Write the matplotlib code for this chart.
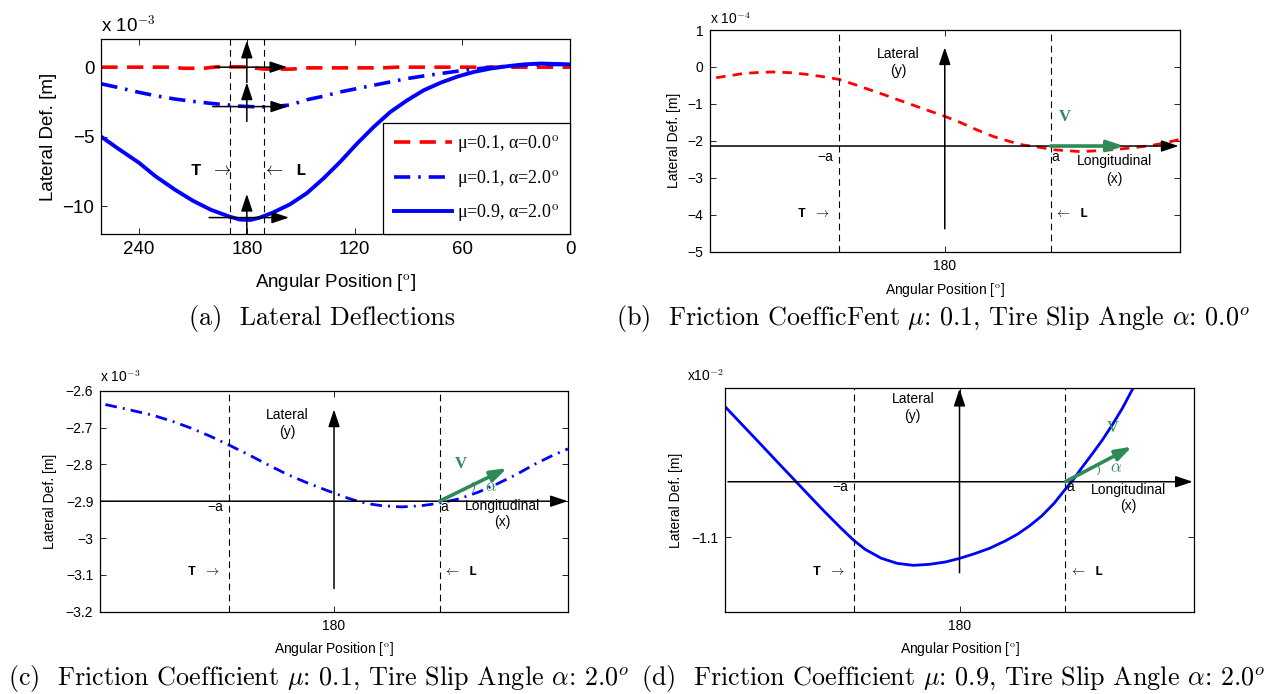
import numpy as np
import matplotlib.pyplot as plt
from matplotlib.ticker import FuncFormatter

plt.rcParams['font.family'] = ['Liberation Sans', 'DejaVu Sans']
plt.rcParams['mathtext.fontset'] = 'cm'

# ******** data (a): whole circumference, 1e-3 m ********
ang_red_a = [261, 220, 216, 204, 197, 182, 170, 155, 146, 105, 96, 40, 0]
red_a = [0.0, 0.0, -0.08, -0.08, 0.02, 0.02, -0.14, -0.14, -0.05, -0.05, 0.0, 0.0, 0.0]
ang_mid_a = [261, 252, 240, 230.9, 220, 209.9, 200, 189.9, 183.9, 172.7, 165.3, 156, 146.6,
             137.4, 128, 118.7, 109.4, 100.1, 90.7, 81.5, 72.1, 62.8, 53.5, 44.2, 34.8, 25.5,
             16.2, 0]
mid_a = [-1.2, -1.45, -1.81, -2.05, -2.29, -2.46, -2.6, -2.72, -2.8, -2.86, -2.82, -2.72,
         -2.34, -2.09, -1.78, -1.54, -1.30, -1.06, -0.82, -0.63, -0.46, -0.29, -0.14, -0.02,
         0.07, 0.14, 0.2, 0.18]
ang_sol_a = [261, 252, 240, 230.9, 220, 209.9, 200, 189.9, 183.9, 178, 172.7, 165.3, 156,
             146.6, 137.4, 128, 118.7, 109.4, 100.1, 90.7, 81.5, 72.1, 62.8, 53.5, 44.2, 34.8,
             25.5, 16.2, 0]
sol_a = [-5.0, -5.82, -6.87, -7.83, -8.8, -9.6, -10.24, -10.72, -10.94, -10.97, -10.8,
         -10.43, -9.85, -9.05, -8.0, -6.8, -5.5, -4.3, -3.22, -2.38, -1.66, -1.12, -0.68,
         -0.34, -0.10, 0.07, 0.2, 0.26, 0.2]
xt_a = [240, 180, 120, 60, 0]
yt_a = [0, -5, -10]

# ******** data (b): mu 0.1, alpha 0, 1e-4 m ********
ang_b = [200.53, 199.11, 197.99, 196.51, 195.39, 193.90, 192.41, 190.92, 189.50, 188.12,
         186.82, 185.33, 183.84, 181.97, 180.00, 178.62, 177.13, 175.64, 174.15, 173.03,
         171.91, 170.05, 167.82, 165.95, 164.46, 162.97, 161.48, 159.99, 158.87]
def_b = [-0.291, -0.227, -0.173, -0.145, -0.136, -0.155, -0.200, -0.264, -0.336, -0.473,
         -0.609, -0.764, -0.927, -1.127, -1.336, -1.500, -1.700, -1.882, -2.018, -2.109,
         -2.155, -2.245, -2.291, -2.264, -2.227, -2.182, -2.127, -2.045, -1.955]
yt_b = [1, 0, -1, -2, -3, -4, -5]

# ******** data (c): mu 0.1, alpha 2, 1e-3 m ********
ang_c = [200.59, 198.69, 196.28, 194.56, 192.84, 191.12, 189.50, 187.68, 185.96, 184.23,
         182.51, 181.14, 180.0, 178.73, 177.69, 176.66, 175.63, 173.91, 172.19, 170.53,
         168.74, 167.02, 165.30, 163.58, 161.86, 160.14, 158.93]
def_c = [-2.6376, -2.650, -2.667, -2.683, -2.702, -2.724, -2.747, -2.774, -2.801,
         -2.827, -2.849, -2.865, -2.878, -2.892, -2.9015, -2.908, -2.9125, -2.9155,
         -2.9125, -2.9054, -2.8937, -2.8756, -2.8529, -2.8276, -2.7986, -2.7733, -2.7579]
yt_c = [-2.6, -2.7, -2.8, -2.9, -3.0, -3.1, -3.2]

# ******** data (d): mu 0.9, alpha 2, 1e-2 m ********
ang_d = [201.06, 199.69, 197.88, 196.44, 195.17, 193.55, 192.10, 190.66, 189.50, 188.49,
         187.04, 185.60, 184.15, 182.71, 181.26, 180.00, 178.74, 177.29, 175.85, 174.76,
         173.68, 172.59, 171.51, 170.50, 169.70, 168.98, 168.08, 167.17, 166.27, 165.37,
         164.47, 163.74]
def_d = [-1.0342, -1.0423, -1.0530, -1.0616, -1.0691, -1.0787, -1.0872, -1.0953, -1.1015,
         -1.1060, -1.1105, -1.1131, -1.1141, -1.1136, -1.1124, -1.1106, -1.1084, -1.1055,
         -1.1017, -1.0983, -1.0941, -1.0891, -1.0829, -1.0758, -1.0703, -1.0647, -1.0580,
         -1.0510, -1.0433, -1.0350, -1.0255, -1.0182]
yt_d = [-1.1]

W, H = 1270, 694
fig = plt.figure(figsize=(W / 100, H / 100), dpi=100)
green = '#2E8B57'


def rect(l, t, r, b):
    return [l / W, 1 - b / H, (r - l) / W, (b - t) / H]


def fmt(v, p):
    return ('%g' % round(v, 6)).replace('-', '\u2212')


def style(ax, fs):
    ax.tick_params(direction='in', top=True, right=True, length=4, width=0.6,
                   labelsize=fs, pad=5)
    for s in ax.spines.values():
        s.set_linewidth(0.9)
    ax.yaxis.set_major_formatter(FuncFormatter(fmt))


def arrow(ax, x0, y0, x1, y1, c='k', lw=1.1, ms=14):
    ax.annotate('', xy=(x1, y1), xytext=(x0, y0),
                arrowprops=dict(arrowstyle='-|>,head_length=0.75,head_width=0.25',
                                color=c, lw=lw, mutation_scale=ms,
                                shrinkA=0, shrinkB=0))


# ======== (a) ========
ax = fig.add_axes(rect(101.4, 39.3, 570, 234.3))
l1, = ax.plot(ang_red_a, red_a, color='r', lw=2.6, ls=(0, (4.5, 2.6)))
l2, = ax.plot(ang_mid_a, mid_a, color='b', lw=2.6, ls=(0, (4.5, 2.2, 0.7, 2.2)))
l3, = ax.plot(ang_sol_a, sol_a, color='b', lw=2.8)
ax.set_xlim(261, 0)
ax.set_ylim(-12, 2)
ax.set_xticks(xt_a)
ax.set_yticks(yt_a)
style(ax, 13.5)
for xv in [189.5, 170.5]:
    ax.axvline(xv, color='k', lw=0.8, ls=(0, (6, 4)))
arrow(ax, 180, -1.1, 180, 1.9)
arrow(ax, 180, -3.9, 180, -1.1)
arrow(ax, 180, -12, 180, -9.1)
arrow(ax, 198, 0, 157.5, 0)
arrow(ax, 199, -2.83, 157, -2.83)
arrow(ax, 201, -10.8, 156.5, -10.8)
ax.text(188, -7.4, r'T $\rightarrow$', family='Liberation Mono', weight='bold',
        fontsize=12.5, ha='right', va='center')
ax.text(171.5, -7.4, r'$\leftarrow$ L', family='Liberation Mono', weight='bold',
        fontsize=12.5, ha='left', va='center')
leg = ax.legend([l1, l2, l3],
                [r'μ=0.1, α=0.0$^{\rm o}$', r'μ=0.1, α=2.0$^{\rm o}$', r'μ=0.9, α=2.0$^{\rm o}$'],
                loc='lower right', borderaxespad=0, fancybox=False, framealpha=1,
                edgecolor='k', prop=dict(family='Liberation Serif', size=13),
                handlelength=3.2, labelspacing=0.75, handletextpad=0.3, borderpad=0.6)
leg.get_frame().set_linewidth(0.9)
ax.set_xlabel(r'Angular Position [$^{\rm o}$]', fontsize=13.5)
ax.set_ylabel('Lateral Def. [m]', fontsize=13.5)
ax.xaxis.set_label_coords(0.5, -0.195)
ax.yaxis.set_label_coords(-0.095, 0.5)
ax.text(0.0, 1.035, r'x 10$^{-3}$', transform=ax.transAxes, fontsize=13.5, va='baseline')


def detail(ax, fs=10):
    ax.set_xlim(201.05, 158.9)
    ax.set_xticks([180])
    style(ax, fs)
    for xv in [189.5, 170.5]:
        ax.axvline(xv, color='k', lw=0.8, ls=(0, (6, 4)))
    ax.set_xlabel(r'Angular Position [$^{\rm o}$]', fontsize=fs)
    ax.set_ylabel('Lateral Def. [m]', fontsize=fs)


def coord_text(ax, yl, yx, ya, yt, yxx):
    ax.text(184.2, yl, 'Lateral', fontsize=10, ha='center', va='center')
    ax.text(184.2, yl - yt, '(y)', fontsize=10, ha='center', va='center')
    ax.text(190, ya, '\u2212a', fontsize=10, ha='right', va='center')
    ax.text(170.4, ya, 'a', fontsize=10, ha='left', va='center')
    ax.text(164.8, yx, 'Longitudinal', fontsize=10, ha='center', va='center')
    ax.text(164.8, yxx, '(x)', fontsize=10, ha='center', va='center')


def tl_text(ax, y):
    ax.text(190.3, y, r'T $\rightarrow$', family='Liberation Mono', weight='bold',
            fontsize=9.5, ha='right', va='center')
    ax.text(170.2, y, r'$\leftarrow$ L', family='Liberation Mono', weight='bold',
            fontsize=9.5, ha='left', va='center')


# ======== (b) ========
ax = fig.add_axes(rect(710.4, 30, 1179.7, 251.7))
ax.plot(ang_b, def_b, color='r', lw=2.0, ls=(0, (3.4, 2.6)))
ax.set_ylim(-5, 1)
ax.set_yticks(yt_b)
detail(ax)
ax.xaxis.set_label_coords(0.5, -0.131)
ax.yaxis.set_label_coords(-0.063, 0.5)
arrow(ax, 180, -4.38, 180, 0.53)
arrow(ax, 201, -2.14, 159.0, -2.14)
arrow(ax, 170.5, -2.14, 163.9, -2.14, c=green, lw=2.6, ms=13)
ax.text(169.2, -1.35, 'V', color=green, family='Liberation Serif', weight='bold',
        fontsize=12, ha='center', va='center')
coord_text(ax, 0.35, -2.54, -2.44, 0.46, -3.02)
tl_text(ax, -3.97)
ax.text(0.0, 1.027, r'x 10$^{-4}$', transform=ax.transAxes, fontsize=10, va='baseline')

# ======== (c) ========
ax = fig.add_axes(rect(100.3, 390.7, 568.3, 611.7))
ax.plot(ang_c, def_c, color='b', lw=2.0, ls=(0, (4.2, 2.2, 0.7, 2.2)))
ax.set_ylim(-3.2, -2.6)
ax.set_yticks(yt_c)
detail(ax)
ax.xaxis.set_label_coords(0.5, -0.13)
ax.yaxis.set_label_coords(-0.0925, 0.5)
arrow(ax, 180, -3.137, 180, -2.651)
arrow(ax, 201, -2.9, 158.95, -2.9)
arrow(ax, 170.5, -2.9, 164.4, -2.81, c=green, lw=2.6, ms=13)
ax.text(168.6, -2.80, 'V', color=green, family='Liberation Serif', weight='bold',
        fontsize=12, ha='center', va='center')
ax.text(167.4, -2.862, ')', color=green, fontsize=8, ha='center', va='center')
ax.text(165.9, -2.862, r'$\alpha$', color=green, fontsize=12, ha='center', va='center')
coord_text(ax, -2.666, -2.912, -2.916, 0.045, -2.957)
tl_text(ax, -3.092)
ax.text(0.0, 1.039, r'x 10$^{-3}$', transform=ax.transAxes, fontsize=10, va='baseline')

# ======== (d) ========
ax = fig.add_axes(rect(725.2, 388.3, 1194.4, 611.7))
ax.plot(ang_d, def_d, color='b', lw=2.0)
ax.set_ylim(-1.13744, -1.02495)
ax.set_yticks(yt_d)
detail(ax)
ax.xaxis.set_label_coords(0.5, -0.128)
ax.yaxis.set_label_coords(-0.09, 0.5)
arrow(ax, 180, -1.1178, 180, -1.0252)
arrow(ax, 200.8, -1.072, 159.05, -1.072)
arrow(ax, 170.5, -1.072, 164.5, -1.0543, c=green, lw=2.6, ms=13)
ax.text(166.2, -1.045, 'V', color=green, family='Liberation Serif',
        fontsize=12, ha='center', va='center')
ax.text(167.5, -1.0661, ')', color=green, fontsize=8, ha='center', va='center')
ax.text(165.9, -1.0652, r'$\alpha$', color=green, fontsize=12, ha='center', va='center')
coord_text(ax, -1.0305, -1.0762, -1.0745, 0.0084, -1.0842)
tl_text(ax, -1.1173)
ax.text(-0.081, 1.033, r'x10$^{-2}$', transform=ax.transAxes, fontsize=10, va='baseline')

# ******** captions ********
cap = dict(family='cmr10', fontsize=18.8, va='center')
fig.text(322 / W, 1 - 319 / H, '(a)  Lateral Deflections', ha='center', **cap)
fig.text(933 / W, 1 - 319 / H,
         r'(b)  Friction CoefficFent $\mu$: 0.1, Tire Slip Angle $\alpha$: 0.0$^o$',
         ha='center', **cap)
fig.text(8 / W, 1 - 678 / H,
         r'(c)  Friction Coefficient $\mu$: 0.1, Tire Slip Angle $\alpha$: 2.0$^o$',
         ha='left', **cap)
fig.text(1265 / W, 1 - 678 / H,
         r'(d)  Friction Coefficient $\mu$: 0.9, Tire Slip Angle $\alpha$: 2.0$^o$',
         ha='right', **cap)

plt.savefig('out.png', dpi=100)
